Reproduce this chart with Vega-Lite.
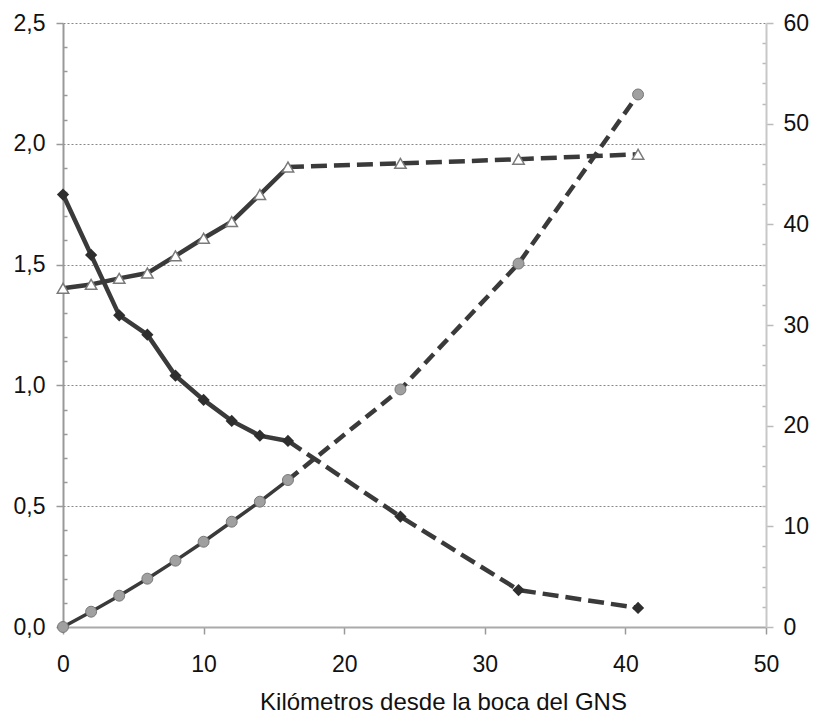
{
  "$schema": "https://vega.github.io/schema/vega-lite/v6.json",
  "width": 703,
  "height": 604,
  "autosize": {"type": "none"},
  "padding": {"left": 63, "top": 23, "right": 47, "bottom": 88},
  "config": {
    "view": {"stroke": null},
    "font": "Liberation Sans",
    "axis": {
      "labelFont": "Liberation Sans",
      "titleFont": "Liberation Sans",
      "labelFontSize": 23,
      "titleFontSize": 24,
      "labelColor": "#111111",
      "titleColor": "#111111",
      "titleFontWeight": "normal",
      "labelOverlap": false,
      "labelFlush": false,
      "labelBound": false
    }
  },
  "data": {
    "values": [
      {"serie": "diamante", "km": 0, "v": 1.79},
      {"serie": "diamante", "km": 2, "v": 1.54},
      {"serie": "diamante", "km": 4, "v": 1.29},
      {"serie": "diamante", "km": 6, "v": 1.21},
      {"serie": "diamante", "km": 8, "v": 1.04},
      {"serie": "diamante", "km": 10, "v": 0.94},
      {"serie": "diamante", "km": 12, "v": 0.853},
      {"serie": "diamante", "km": 14, "v": 0.792},
      {"serie": "diamante", "km": 16, "v": 0.77},
      {"serie": "diamante", "km": 24, "v": 0.457},
      {"serie": "diamante", "km": 32.4, "v": 0.153},
      {"serie": "diamante", "km": 40.9, "v": 0.079},
      {"serie": "triangulo", "km": 0, "v": 1.402},
      {"serie": "triangulo", "km": 2, "v": 1.418},
      {"serie": "triangulo", "km": 4, "v": 1.443},
      {"serie": "triangulo", "km": 6, "v": 1.465},
      {"serie": "triangulo", "km": 8, "v": 1.536},
      {"serie": "triangulo", "km": 10, "v": 1.609},
      {"serie": "triangulo", "km": 12, "v": 1.678},
      {"serie": "triangulo", "km": 14, "v": 1.79},
      {"serie": "triangulo", "km": 16, "v": 1.904},
      {"serie": "triangulo", "km": 24, "v": 1.919},
      {"serie": "triangulo", "km": 32.4, "v": 1.936},
      {"serie": "triangulo", "km": 40.9, "v": 1.957},
      {"serie": "circulo", "km": 0, "v": 0},
      {"serie": "circulo", "km": 2, "v": 1.52},
      {"serie": "circulo", "km": 4, "v": 3.11},
      {"serie": "circulo", "km": 6, "v": 4.8},
      {"serie": "circulo", "km": 8, "v": 6.59},
      {"serie": "circulo", "km": 10, "v": 8.47},
      {"serie": "circulo", "km": 12, "v": 10.46},
      {"serie": "circulo", "km": 14, "v": 12.45},
      {"serie": "circulo", "km": 16, "v": 14.6},
      {"serie": "circulo", "km": 24, "v": 23.6},
      {"serie": "circulo", "km": 32.4, "v": 36.1},
      {"serie": "circulo", "km": 40.9, "v": 52.9}
    ]
  },
  "encoding": {
    "x": {
      "field": "km",
      "type": "quantitative",
      "scale": {"domain": [0, 50], "nice": false},
      "axis": {
        "values": [0, 10, 20, 30, 40, 50],
        "grid": false,
        "title": "Kilómetros desde la boca del GNS",
        "titleX": 380,
        "domainColor": "#aaaaaa",
        "domainWidth": 2,
        "tickColor": "#999999",
        "tickWidth": 1.5,
        "tickSize": 7,
        "labelPadding": 19,
        "titlePadding": 14
      }
    }
  },
  "layer": [
    {
      "transform": [{"filter": "datum.serie != 'circulo'"}],
      "encoding": {
        "y": {
          "field": "v",
          "type": "quantitative",
          "scale": {"domain": [0, 2.5], "nice": false},
          "axis": {
            "orient": "left",
            "title": null,
            "values": [0, 0.1, 0.2, 0.3, 0.4, 0.5, 0.6, 0.7, 0.8, 0.9, 1, 1.1, 1.2, 1.3, 1.4, 1.5, 1.6, 1.7, 1.8, 1.9, 2, 2.1, 2.2, 2.3, 2.4, 2.5],
            "labelExpr": "abs(round(datum.value*2)-datum.value*2) < 0.000001 ? replace(format(datum.value, '.1f'), '.', ',') : ''",
            "grid": true,
            "gridColor": "#888888",
            "gridDash": [2, 2],
            "gridWidth": 1,
            "gridOpacity": {"condition": {"test": "abs(round(datum.value*2)-datum.value*2) < 0.000001 && datum.value > 0", "value": 1}, "value": 0},
            "tickSize": {"condition": {"test": "abs(round(datum.value*2)-datum.value*2) < 0.000001", "value": 7}, "value": -4},
            "tickColor": "#999999",
            "tickWidth": 1.5,
            "domainColor": "#999999",
            "domainWidth": 2,
            "labelPadding": 11
          }
        }
      },
      "layer": [
        {
          "transform": [{"filter": "datum.km <= 16"}],
          "mark": {"type": "line", "color": "#3a3a3a", "strokeWidth": 4.5},
          "encoding": {"detail": {"field": "serie"}}
        },
        {
          "transform": [{"filter": "datum.km >= 16"}],
          "mark": {"type": "line", "color": "#3a3a3a", "strokeWidth": 4.5, "strokeDash": [16, 7]},
          "encoding": {"detail": {"field": "serie"}}
        },
        {
          "transform": [{"filter": "datum.serie == 'diamante'"}],
          "mark": {"type": "point", "shape": "diamond", "filled": true, "color": "#2e2e2e", "size": 150, "opacity": 1},
          "encoding": {}
        },
        {
          "transform": [{"filter": "datum.serie == 'triangulo'"}],
          "mark": {"type": "point", "shape": "triangle-up", "filled": true, "fill": "#ffffff", "stroke": "#7a7a7a", "strokeWidth": 1.5, "size": 130, "opacity": 1},
          "encoding": {}
        }
      ]
    },
    {
      "transform": [{"filter": "datum.serie == 'circulo'"}],
      "encoding": {
        "y": {
          "field": "v",
          "type": "quantitative",
          "scale": {"domain": [0, 60], "nice": false},
          "axis": {
            "orient": "right",
            "title": null,
            "values": [0, 2, 4, 6, 8, 10, 12, 14, 16, 18, 20, 22, 24, 26, 28, 30, 32, 34, 36, 38, 40, 42, 44, 46, 48, 50, 52, 54, 56, 58, 60],
            "labelExpr": "datum.value % 10 == 0 ? format(datum.value, 'd') : ''",
            "grid": false,
            "tickSize": {"condition": {"test": "datum.value % 10 == 0", "value": 7}, "value": -4},
            "tickColor": "#bbbbbb",
            "tickWidth": 1.5,
            "domainColor": "#c8c8c8",
            "domainWidth": 2,
            "labelPadding": 10
          }
        }
      },
      "layer": [
        {
          "transform": [{"filter": "datum.km <= 16"}],
          "mark": {"type": "line", "color": "#3a3a3a", "strokeWidth": 3.5},
          "encoding": {}
        },
        {
          "transform": [{"filter": "datum.km >= 16"}],
          "mark": {"type": "line", "color": "#3a3a3a", "strokeWidth": 4.5, "strokeDash": [13, 7]},
          "encoding": {}
        },
        {
          "mark": {"type": "point", "shape": "circle", "filled": true, "fill": "#a0a0a0", "stroke": "#777777", "strokeWidth": 1, "size": 120, "opacity": 1},
          "encoding": {}
        }
      ]
    }
  ],
  "resolve": {"scale": {"y": "independent"}, "axis": {"y": "independent"}}
}
